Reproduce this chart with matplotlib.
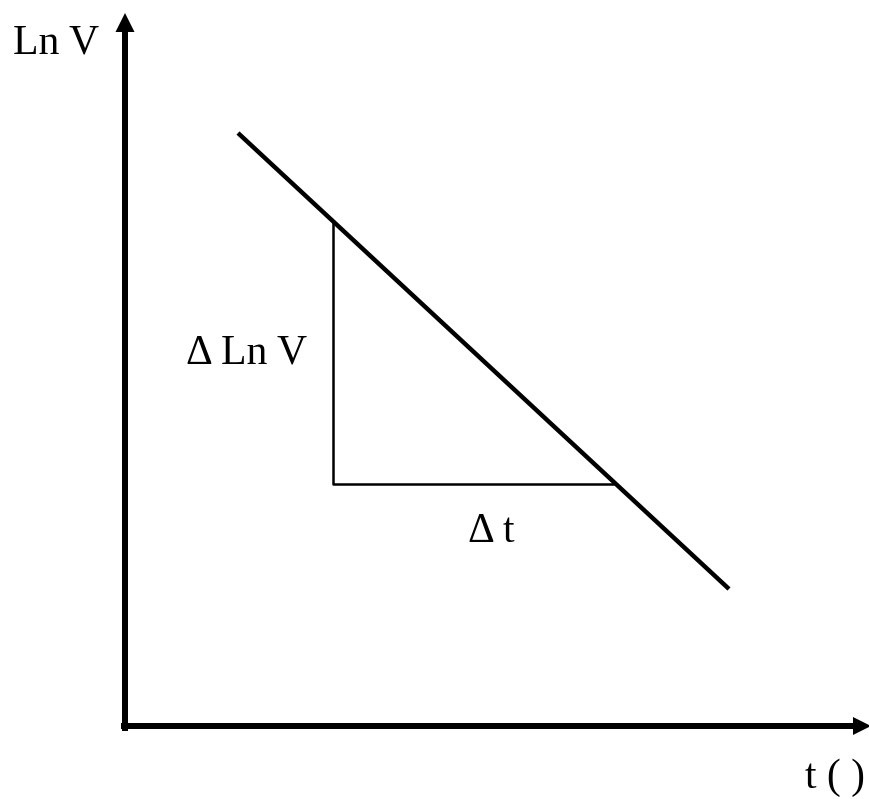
import matplotlib
matplotlib.use("Agg")
from matplotlib import pyplot as plt

plt.rcParams["font.family"] = ["Liberation Serif", "DejaVu Serif"]

# schematic data (origin at the axes corner, units ~ pixels)
line_x = [113, 604]
line_y = [593, 137]
tri_x = [208, 208, 488]
tri_y = [503, 242, 242]
y_axis_top = 713
x_axis_right = 746

fig = plt.figure(figsize=(8.69, 7.99), dpi=100)
ax = fig.add_axes([0, 0, 1, 1])
ax.set_xlim(-125, 744)
ax.set_ylim(-73, 726)
ax.axis("off")

# axes with arrow heads
ax.arrow(0, -5, 0, y_axis_top + 5, width=6, head_width=19, head_length=19,
         length_includes_head=True, color="black", linewidth=0)
ax.arrow(-4, 0, x_axis_right + 4, 0, width=6, head_width=18, head_length=18,
         length_includes_head=True, color="black", linewidth=0)

# the straight line and the slope triangle
ax.plot(line_x, line_y, color="black", linewidth=3.2, solid_capstyle="butt")
ax.plot(tri_x, tri_y, color="black", linewidth=1.8)

ax.text(-112, 673, "Ln V", fontsize=30, ha="left", va="baseline")
ax.text(61, 363, "\u0394 Ln V", fontsize=30, ha="left", va="baseline")
ax.text(343, 184, "\u0394 t", fontsize=30, ha="left", va="baseline")
ax.text(680, -62, "t ( )", fontsize=30, ha="left", va="baseline")

fig.savefig("out.png", dpi=100)
